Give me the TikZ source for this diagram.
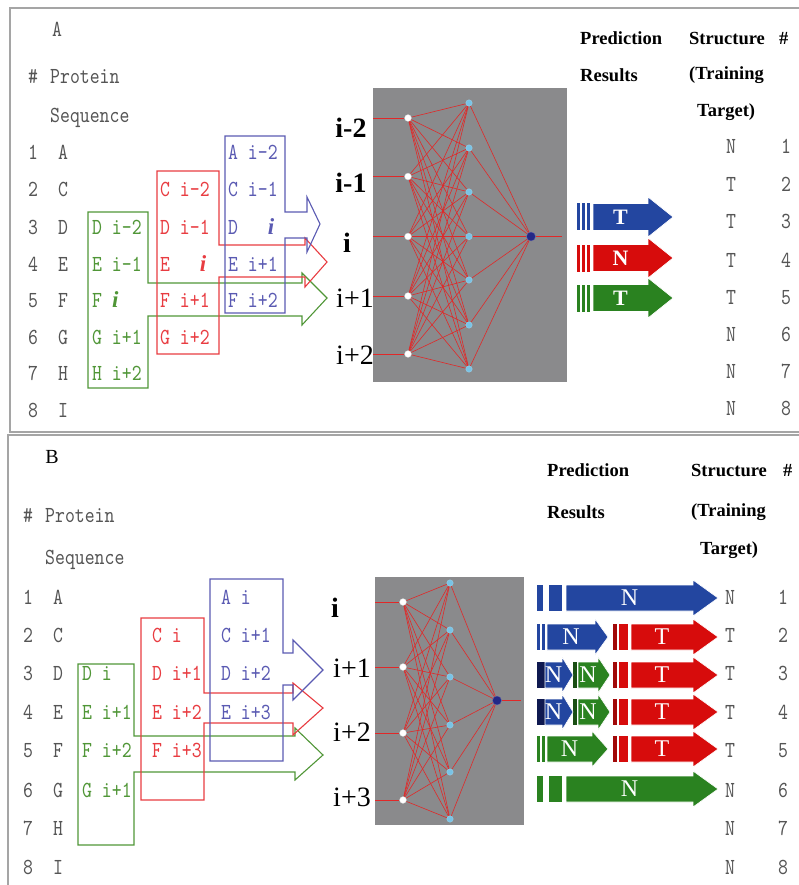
\documentclass[tikz,border=0pt]{standalone}
\usepackage{fontspec}
\setmainfont{Liberation Serif}
\newfontfamily\seqfont[FakeStretch=0.82]{lmmono10-regular.otf}
\usepackage{tikz}
\definecolor{seqgray}{RGB}{85,85,85}
\definecolor{framegray}{RGB}{165,165,165}
\definecolor{boxgreen}{RGB}{80,150,55}
\definecolor{boxred}{RGB}{232,60,65}
\definecolor{boxblue}{RGB}{90,90,178}
\definecolor{netgray}{RGB}{138,138,140}
\definecolor{wirered}{RGB}{225,40,40}
\definecolor{hidblue}{RGB}{120,195,230}
\definecolor{outblue}{RGB}{35,40,135}
\definecolor{predblue}{RGB}{35,70,160}
\definecolor{predred}{RGB}{215,12,12}
\definecolor{predgreen}{RGB}{42,130,32}
\definecolor{navy}{RGB}{15,25,80}
\tikzstyle{seq} = [font=\seqfont\fontsize{23}{23}\selectfont, text=seqgray, inner sep=0pt, text height=14pt, text depth=0pt]
\tikzstyle{head} = [font=\bfseries\fontsize{18.5}{18.5}\selectfont, inner sep=0pt, anchor=west]
\tikzstyle{netlabel} = [font=\fontsize{28}{28}\selectfont, inner sep=0pt]
\tikzstyle{innode} = [circle, fill=white, draw=gray!50, line width=0.3pt, minimum size=7pt, inner sep=0pt]
\tikzstyle{hidnode} = [circle, fill=hidblue, draw=hidblue!70!white, line width=0.3pt, minimum size=6.5pt, inner sep=0pt]
\tikzstyle{outnode} = [circle, fill=outblue, draw=outblue!70!white, line width=0.3pt, minimum size=9pt, inner sep=0pt]
\tikzstyle{wire} = [draw=wirered, line width=0.6pt]
\tikzstyle{window} = [line width=1.1pt, line join=miter]
\tikzstyle{frame} = [draw=framegray, line width=1.3pt]
\tikzstyle{predlabel} = [text=white, font=\bfseries\fontsize{22}{22}\selectfont, inner sep=0pt]
\newcommand{\boldi}{{\rmfamily\bfseries\itshape i}}
\newcommand{\predbar}[4]{\fill[#1] (#2,#4-\shaft) rectangle (#3,#4+\shaft);}
\newcommand{\predarrow}[7]{%
  \path[fill=#2, draw=white, line width=0.6pt] (#3,#6-\shaft) -- (#4,#6-\shaft) -- (#4,#6-\headw) -- (#5,#6) -- (#4,#6+\headw) -- (#4,#6+\shaft) -- (#3,#6+\shaft) -- cycle;
  \node[predlabel] (#1) at ({(#3+#4)/2},#6) {#7};}
\pgfdeclarelayer{back}
\pgfdeclarelayer{wires}
\pgfsetlayers{back,wires,main}
\begin{document}
\begin{tikzpicture}[x=1pt, y=-1pt]
	\useasboundingbox (0,0) rectangle (798,885);
	\path [frame] (10,8) rectangle (812,432);
	\path [frame] (8,435) rectangle (812,895);
	
	
	\node [seq] (labA) at (57,30) {A};
	\node [seq] (hashA) at (33,77) {\#};
	\node [seq, anchor=west] (protA) at (50,77) {Protein};
	\node [seq, anchor=west] (sequA) at (50,116) {Sequence};
	\foreach \a/\y [count=\k] in {A/153,C/190,D/227,E/264,F/300,G/337,H/373,I/410} {
		\node [seq] (numA\k) at (33,\y) {\k};
		\node [seq] (resA\k) at (63,\y) {\a};
	}
	
	
	\foreach \t/\y [count=\k] in {D i-2/227,E i-1/264,F \boldi/300,G i+1/337,H i+2/373}
		\node [seq, anchor=west, text=boxgreen] (winA1\k) at (92,\y) {\t};
	\foreach \t/\y [count=\k] in {C i-2/190,D i-1/227,E~~~\boldi/264,F i+1/300,G i+2/337}
		\node [seq, anchor=west, text=boxred] (winA2\k) at (160,\y) {\t};
	\foreach \t/\y [count=\k] in {A i-2/153,C i-1/190,D~~~\boldi/227,E i+1/264,F i+2/300}
		\node [seq, anchor=west, text=boxblue] (winA3\k) at (228,\y) {\t};
	
	\path [window, draw=boxgreen] (88,212) -- (148,212) -- (148,283) -- (302,283) -- (302,273) -- (327,298) -- (302,325) -- (302,316) -- (148,316) -- (148,388) -- (88,388) -- cycle;
	\path [window, draw=boxred] (157,171) -- (219,171) -- (219,245) -- (305,245) -- (305,238) -- (327,262) -- (305,287) -- (305,277) -- (219,277) -- (219,354) -- (157,354) -- cycle;
	\path [window, draw=boxblue] (225,136) -- (285,136) -- (285,212) -- (307,212) -- (307,197) -- (320,224) -- (307,252) -- (307,238) -- (285,238) -- (285,313) -- (225,313) -- cycle;
	
	
	\begin{pgfonlayer}{back}
		\fill [netgray] (373,88) rectangle (567,382);
	\end{pgfonlayer}
	\foreach \y [count=\k] in {118,176.5,236.5,296,354} {
		\node [innode] (inA\k) at (408,\y) {};
		\coordinate (feedA\k) at (373,\y);
	}
	\foreach \y [count=\k] in {103,148,192,236.5,280,325,369}
		\node [hidnode] (hidA\k) at (469,\y) {};
	\node [outnode] (outA) at (531,236.5) {};
	\coordinate (endA) at (562,236.5);
	\begin{pgfonlayer}{wires}
		\foreach \i in {1,...,5} {
			\path [wire] (feedA\i) -- (inA\i);
			\foreach \j in {1,...,7}
				\path [wire] (inA\i) -- (hidA\j);
		}
		\foreach \j in {1,...,7}
			\path [wire] (hidA\j) -- (outA);
		\path [wire] (outA) -- (endA);
	\end{pgfonlayer}
	
	\node [netlabel, font=\bfseries\fontsize{28}{28}\selectfont] (posA1) at (351,128) {i-2};
	\node [netlabel, font=\bfseries\fontsize{28}{28}\selectfont] (posA2) at (351,183) {i-1};
	\node [netlabel, font=\bfseries\fontsize{28}{28}\selectfont] (posA3) at (347,243) {i};
	\node [netlabel] (posA4) at (355,298) {i+1};
	\node [netlabel] (posA5) at (355,355) {i+2};
	
	
	\node [head] (predA) at (580,38) {Prediction};
	\node [head] (resuA) at (580,75) {Results};
	\node [head] (strA) at (689,38) {Structure};
	\node [head] (trainA) at (689,75) {(Training};
	\node [head] (targA) at (697,112) {Target)};
	\node [head] (idxhA) at (779,38) {\#};
	\foreach \s/\y [count=\k] in {N/147,T/185,T/222,T/260,T/297,N/334,N/371,N/408} {
		\node [seq] (tgtA\k) at (731,\y) {\s};
		\node [seq] (idxA\k) at (786,\y) {\k};
	}
	
	\def\shaft{13.5}\def\headw{20}
	\predbar{predblue}{577}{580}{217} \predbar{predblue}{582}{584.5}{217} \predbar{predblue}{586.5}{590}{217}
	\predarrow{outA1}{predblue}{593}{648}{673}{217}{T}
	\predbar{predred}{577}{580}{258} \predbar{predred}{582}{584.5}{258} \predbar{predred}{586.5}{590}{258}
	\predarrow{outA2}{predred}{593}{648}{673}{258}{N}
	\predbar{predgreen}{577}{580}{298} \predbar{predgreen}{582}{584.5}{298} \predbar{predgreen}{586.5}{590}{298}
	\predarrow{outA3}{predgreen}{593}{648}{673}{298}{T}
	
	
	\node [netlabel, font=\rmfamily\fontsize{20}{20}\selectfont, text height=14pt] (labB) at (52,457) {B};
	\node [seq] (hashB) at (28,515) {\#};
	\node [seq, anchor=west] (protB) at (45,515) {Protein};
	\node [seq, anchor=west] (sequB) at (45,557) {Sequence};
	\foreach \a/\y [count=\k] in {A/597,C/635,D/673,E/712,F/750,G/790,H/828,I/867} {
		\node [seq] (numB\k) at (28,\y) {\k};
		\node [seq] (resB\k) at (58,\y) {\a};
	}
	
	\foreach \t/\y [count=\k] in {D i/673,E i+1/712,F i+2/750,G i+1/790}
		\node [seq, anchor=west, text=boxgreen] (winB1\k) at (82,\y) {\t};
	\foreach \t/\y [count=\k] in {C i/635,D i+1/673,E i+2/712,F i+3/750}
		\node [seq, anchor=west, text=boxred] (winB2\k) at (152,\y) {\t};
	\foreach \t/\y [count=\k] in {A i/597,C i+1/635,D i+2/673,E i+3/712}
		\node [seq, anchor=west, text=boxblue] (winB3\k) at (221,\y) {\t};
	
	\path [window, draw=boxgreen] (78,664) -- (134,664) -- (134,736) -- (295,736) -- (295,728) -- (323,755) -- (295,780) -- (295,772) -- (134,772) -- (134,845) -- (78,845) -- cycle;
	\path [window, draw=boxred] (141,618) -- (204,618) -- (204,693) -- (293,693) -- (293,683) -- (323,708) -- (293,735) -- (293,723) -- (204,723) -- (204,800) -- (141,800) -- cycle;
	\path [window, draw=boxblue] (210,579) -- (283,579) -- (283,653) -- (293,653) -- (293,640) -- (323,670) -- (293,700) -- (293,685) -- (283,685) -- (283,761) -- (210,761) -- cycle;
	
	
	\begin{pgfonlayer}{back}
		\fill [netgray] (375,577) rectangle (524,825);
	\end{pgfonlayer}
	\foreach \y [count=\k] in {602,667,733,800} {
		\node [innode] (inB\k) at (403,\y) {};
		\coordinate (feedB\k) at (375,\y);
	}
	\foreach \y [count=\k] in {583,630,677,725,772,819}
		\node [hidnode] (hidB\k) at (450,\y) {};
	\node [outnode] (outB) at (497,700.5) {};
	\coordinate (endB) at (521,700.5);
	\begin{pgfonlayer}{wires}
		\foreach \i in {1,...,4} {
			\path [wire] (feedB\i) -- (inB\i);
			\foreach \j in {1,...,6}
				\path [wire] (inB\i) -- (hidB\j);
		}
		\foreach \j in {1,...,6}
			\path [wire] (hidB\j) -- (outB);
		\path [wire] (outB) -- (endB);
	\end{pgfonlayer}
	
	\node [netlabel, font=\bfseries\fontsize{28}{28}\selectfont] (posB1) at (335,608) {i};
	\node [netlabel] (posB2) at (352,668) {i+1};
	\node [netlabel] (posB3) at (352,732) {i+2};
	\node [netlabel] (posB4) at (352,797) {i+3};
	
	
	\node [head] (predB) at (547,470) {Prediction};
	\node [head] (resuB) at (547,512) {Results};
	\node [head] (strB) at (691,470) {Structure};
	\node [head] (trainB) at (691,512) {(Training};
	\node [head] (targB) at (700,550) {Target)};
	\node [head] (idxhB) at (783,470) {\#};
	\foreach \s/\y [count=\k] in {N/597,T/635,T/673,T/712,T/750,N/790,N/828,N/867} {
		\node [seq] (tgtB\k) at (730,\y) {\s};
		\node [seq] (idxB\k) at (783,\y) {\k};
	}
	
	\def\shaft{13}\def\headw{18}
	\tikzset{predlabel/.style={text=white, font=\fontsize{24}{24}\selectfont, inner sep=0pt}}
	\predbar{predblue}{537}{543}{598} \predbar{predblue}{549}{562}{598}
	\predarrow{outB1}{predblue}{566}{693}{718}{598}{N}
	
	\predbar{predblue}{537}{540}{637} \predbar{predblue}{542}{545}{637}
	\predarrow{outB2a}{predblue}{547}{595}{608}{637}{N}
	\predbar{predred!75!black}{613}{617}{637} \predbar{predred}{619}{628}{637}
	\predarrow{outB2b}{predred}{631}{693}{718}{637}{T}
	
	\predbar{predgreen!60!black}{573}{577}{675}
	\predarrow{outB3b}{predgreen}{578}{598}{610}{675}{N}
	\predbar{navy}{537}{545}{675}
	\predarrow{outB3a}{predblue}{545}{562}{573}{675}{N}
	\predbar{predred!75!black}{613}{617}{675} \predbar{predred}{619}{628}{675}
	\predarrow{outB3c}{predred}{631}{693}{718}{675}{T}
	
	\predbar{predgreen!60!black}{573}{577}{712}
	\predarrow{outB4b}{predgreen}{578}{598}{610}{712}{N}
	\predbar{navy}{537}{545}{712}
	\predarrow{outB4a}{predblue}{545}{562}{573}{712}{N}
	\predbar{predred!75!black}{613}{617}{712} \predbar{predred}{619}{628}{712}
	\predarrow{outB4c}{predred}{631}{693}{718}{712}{T}
	
	\predbar{predgreen}{537}{540}{749} \predbar{predgreen}{542}{545}{749}
	\predarrow{outB5a}{predgreen}{547}{592}{608}{749}{N}
	\predbar{predred!75!black}{613}{617}{749} \predbar{predred}{619}{628}{749}
	\predarrow{outB5b}{predred}{631}{693}{718}{749}{T}
	
	\predbar{predgreen}{537}{543}{789} \predbar{predgreen}{549}{562}{789}
	\predarrow{outB6}{predgreen}{566}{693}{718}{789}{N}
\end{tikzpicture}
\end{document}
